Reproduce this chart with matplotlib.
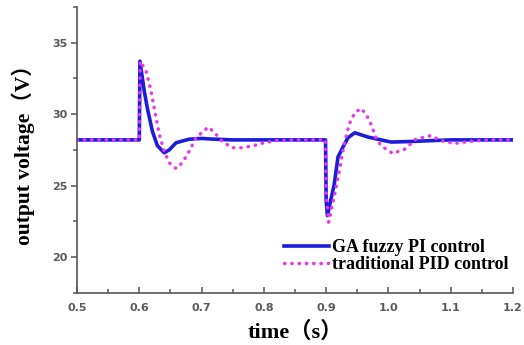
import matplotlib
matplotlib.use("Agg")
import matplotlib.pyplot as plt
from matplotlib.ticker import MultipleLocator

# GA fuzzy PI response (time in s, voltage in V)
t_fuzzy = [0.5, 0.6, 0.601, 0.608, 0.613, 0.621, 0.629, 0.640, 0.648, 0.659,
           0.680, 0.700, 0.720, 0.750, 0.800, 0.899,
           0.900, 0.902, 0.913, 0.919, 0.927, 0.935, 0.946, 0.967, 0.988,
           1.004, 1.031, 1.070, 1.100, 1.200]
v_fuzzy = [28.2, 28.2, 33.7, 31.6, 30.4, 28.8, 27.8, 27.3, 27.5, 28.0,
           28.25, 28.3, 28.25, 28.2, 28.2, 28.2,
           24.0, 22.9, 25.1, 27.0, 27.7, 28.35, 28.7, 28.4, 28.2,
           28.05, 28.08, 28.15, 28.2, 28.2]

# traditional PID response
t_pid = [0.5, 0.6, 0.6015, 0.611, 0.619, 0.624, 0.632, 0.640, 0.648, 0.659,
         0.669, 0.680, 0.691, 0.711, 0.723, 0.733, 0.749, 0.765, 0.784,
         0.800, 0.820, 0.850, 0.899,
         0.900, 0.904, 0.915, 0.921, 0.929, 0.937, 0.946, 0.956, 0.964,
         0.972, 0.980, 0.988, 1.007, 1.026, 1.044, 1.068, 1.084, 1.106,
         1.132, 1.160, 1.200]
v_pid = [28.2, 28.2, 33.7, 33.0, 31.6, 30.4, 28.6, 27.4, 26.6, 26.2,
         26.6, 27.4, 28.35, 29.1, 28.6, 28.1, 27.65, 27.65, 27.8,
         28.0, 28.15, 28.2, 28.2,
         24.5, 22.45, 24.65, 26.0, 27.9, 29.3, 30.1, 30.4, 30.0,
         29.3, 28.35, 27.8, 27.25, 27.55, 28.25, 28.5, 28.15, 27.95,
         28.1, 28.2, 28.2]

x_ticks = [0.5, 0.6, 0.7, 0.8, 0.9, 1.0, 1.1, 1.2]
y_ticks = [20, 25, 30, 35]

serif = ["Liberation Serif", "Noto Sans CJK SC"]
grey = "#555555"

fig = plt.figure(figsize=(5.24, 3.45), dpi=100)
ax = fig.add_axes([0.147, 0.151, 0.832, 0.829])

ax.plot(t_fuzzy, v_fuzzy, color="#1c1cdc", lw=2.6, label="GA fuzzy PI control")
ax.plot(t_pid, v_pid, color="#ee33ee", lw=2.5, ls=(0, (0.1, 2.0)),
        dash_capstyle="round", label="traditional PID control")

ax.set_xlim(0.5, 1.2)
ax.set_ylim(17.5, 37.5)
ax.set_xticks(x_ticks)
ax.set_xticklabels([f"{v:.1f}" for v in x_ticks])
ax.set_yticks(y_ticks)
ax.xaxis.set_minor_locator(MultipleLocator(0.05))
ax.yaxis.set_minor_locator(MultipleLocator(2.5))

for side in ("top", "right"):
    ax.spines[side].set_visible(False)
for side in ("left", "bottom"):
    ax.spines[side].set_color(grey)
    ax.spines[side].set_linewidth(1.2)

ax.tick_params(axis="x", which="both", direction="in", color=grey, width=1.1)
ax.tick_params(axis="y", which="both", direction="out", color=grey, width=1.1)
ax.tick_params(which="major", length=4)
ax.tick_params(which="minor", length=3)
for lab in ax.get_xticklabels() + ax.get_yticklabels():
    lab.set_family("DejaVu Sans")
    lab.set_fontsize(8)
    lab.set_fontweight("bold")
    lab.set_color("#5a5a5a")
ax.tick_params(axis="x", pad=7)
ax.tick_params(axis="y", pad=3)

ax.set_xlabel("time（s）", family=serif, fontweight="bold", fontsize=16,
              labelpad=6)
ax.set_ylabel("output voltage（V）", family=serif, fontweight="bold",
              fontsize=15.5, labelpad=12)

leg = ax.legend(loc="center left", bbox_to_anchor=(0.474, 0.129),
                frameon=False,
                prop={"family": "Liberation Serif", "weight": "bold",
                      "size": 13},
                handlelength=2.5, handletextpad=0.15, labelspacing=0.0,
                borderpad=0, borderaxespad=0)

fig.savefig("out.png", dpi=100)
